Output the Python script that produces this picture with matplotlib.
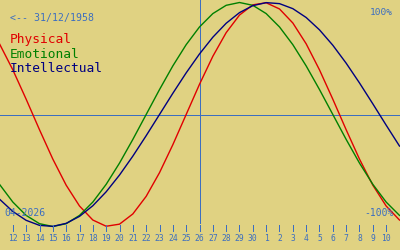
import matplotlib
matplotlib.use('Agg')
import matplotlib.pyplot as plt

# day offsets around 26/04/2026
days = list(range(-15, 16))

physical = [0.6311, 0.3984, 0.1362, -0.1362, -0.3984, -0.6311, -0.8170, -0.9423,
            -0.9977, -0.9791, -0.8879, -0.7308, -0.5196, -0.2698, 0.0, 0.2698,
            0.5196, 0.7308, 0.8879, 0.9791, 0.9977, 0.9423, 0.8170, 0.6311,
            0.3984, 0.1362, -0.1362, -0.3984, -0.6311, -0.8170, -0.9423]
emotional = [-0.6235, -0.7818, -0.9010, -0.9749, -1.0, -0.9749, -0.9010, -0.7818,
             -0.6235, -0.4339, -0.2225, 0.0, 0.2225, 0.4339, 0.6235, 0.7818,
             0.9010, 0.9749, 1.0, 0.9749, 0.9010, 0.7818, 0.6235, 0.4339,
             0.2225, 0.0, -0.2225, -0.4339, -0.6235, -0.7818, -0.9010]
intellectual = [-0.7557, -0.8660, -0.9450, -0.9898, -0.9989, -0.9718, -0.9096, -0.8146,
                -0.6901, -0.5406, -0.3717, -0.1893, 0.0, 0.1893, 0.3717, 0.5406,
                0.6901, 0.8146, 0.9096, 0.9718, 0.9989, 0.9898, 0.9450, 0.8660,
                0.7557, 0.6182, 0.4582, 0.2817, 0.0951, -0.0951, -0.2817]

tick_days = list(range(-14, 15))
tick_labels = [str(d) for d in range(12, 31)] + [str(d) for d in range(1, 11)]

bg = '#e0d282'
blue = '#3c6ec0'
mono = 'DejaVu Sans Mono'

fig = plt.figure(figsize=(4, 2.5), dpi=100, facecolor=bg)
ax = fig.add_axes([0, 0, 1, 1])
ax.set_facecolor(bg)
ax.axis('off')

# pixel mapping: x px = 199.5 + 13.333*d ; y px = 114.5 - 112*v
ax.set_xlim(-199.5 / 13.333, 200.5 / 13.333)
ax.set_ylim((114.5 - 250) / 112, 114.5 / 112)

ax.axhline(0, color=blue, lw=0.7, antialiased=False)
ax.vlines(0, (114.5 - 223) / 112, 2, color=blue, lw=0.7, antialiased=False)

ax.plot(days, physical, color='#e00000', lw=1)
ax.plot(days, emotional, color='#008000', lw=1)
ax.plot(days, intellectual, color='#000080', lw=1)

ax.vlines(tick_days, (114.5 - 230.5) / 112, (114.5 - 225) / 112, color=blue, lw=0.7,
          antialiased=False)
for d, lab in zip(tick_days, tick_labels):
    ax.text(d, (114.5 - 241) / 112, lab, ha='center', va='baseline',
            fontsize=5.8, family=mono, color=blue)

def px(x, y):
    return x / 400, 1 - y / 250

fig.text(*px(10, 20.7), '<-- 31/12/1958', fontsize=7.1, family=mono, color=blue, va='baseline')
fig.text(*px(10, 43.3), 'Physical', fontsize=9.3, family=mono, color='#e00000', va='baseline')
fig.text(*px(10, 57.8), 'Emotional', fontsize=9.3, family=mono, color='#008000', va='baseline')
fig.text(*px(10, 72.3), 'Intellectual', fontsize=9.3, family=mono, color='#000080', va='baseline')
fig.text(*px(393, 15), '100%', fontsize=6.8, family=mono, color=blue, va='baseline', ha='right')
fig.text(*px(4.3, 216), '04-2026', fontsize=7, family=mono, color=blue, va='baseline')
fig.text(*px(394, 215.7), '-100%', fontsize=7, family=mono, color=blue, va='baseline', ha='right')

fig.savefig('out.png', dpi=100, facecolor=bg)
